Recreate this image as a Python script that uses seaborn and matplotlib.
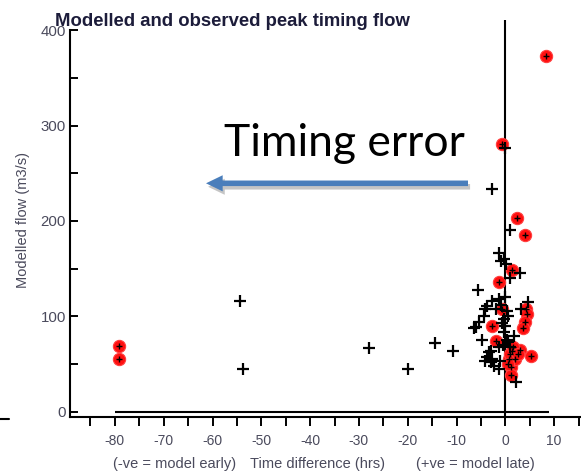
import matplotlib
matplotlib.use("Agg")
import matplotlib.pyplot as plt
import seaborn as sns
import pandas as pd
from matplotlib import patheffects as pe
from matplotlib.lines import Line2D

# ---------------- data ----------------
black_x = [-54.3, -53.8, -27.9, -19.9, -14.4, -10.7,
           -0.1, -2.8, 0.9, -1.4, -0.8, 0.2, -0.3, 3.1, 0.9, -5.6,
           -2.7, -1.3, 0.0, 4.7, -3.7, -2.0, 0.4, 3.3, -4.4, -0.3,
           -6.1, -0.6, 0.0, -4.7, 0.6, 1.7, -3.0, -1.3, -3.7, -3.0,
           -4.1, -2.4, -1.3, -1.0, 2.1, 0.3, -0.5, 1.0, -4.1, -5.4,
           -6.5, -3.4, -2.7, -0.2, 0.5, -0.8]
black_y = [116.5, 44.8, 66.4, 44.8, 71.7, 64.0,
           276, 233, 190, 166.5, 158, 155, 160, 145, 140, 128,
           115.5, 118, 120, 115, 111, 108, 106, 107.7, 100.7, 97.3,
           89.2, 93, 90, 75.5, 72.7, 79.7, 64, 67.5, 57, 51.7,
           53.5, 48.3, 44.8, 53.5, 30.5, 75, 70, 68, 107.7, 93.7,
           87.8, 62.2, 55.3, 83, 100, 112]

red_x = [-79.2, -79.2, 8.4, -0.6, 2.4, 4.1, 1.4, -1.2, -0.6, 4.3,
         4.5, 4.1, -2.8, 3.6, -2.0, 1.4, 3.1, 5.2, 0.7, 1.1,
         1.1, 1.0, 2.0, 1.5, 0.5, 2.5]
red_y = [68.5, 54.9, 373.5, 281, 203, 185.7, 148.7, 135.5, 108, 107.8,
         102.5, 94, 90, 88, 74.5, 64, 65, 58.5, 55.3, 46.5,
         38, 60, 55, 68, 50, 60]

x_major = [-80, -70, -60, -50, -40, -30, -20, -10, 0, 10]
x_minor = [-85, -75, -65, -55, -45, -35, -25, -15, -5, 5, 15]
y_major = [0, 100, 200, 300, 400]
y_minor = [50, 150, 250, 350]

title = "Modelled and observed peak timing flow"
ylabel = "Modelled flow (m3/s)"
xlabel_left = "(-ve = model early)"
xlabel_mid = "Time difference (hrs)"
xlabel_right = "(+ve = model late)"
note = "Timing error"

black_df = pd.DataFrame({"dt": black_x, "flow": black_y})
red_df = pd.DataFrame({"dt": red_x, "flow": red_y})

# ---------------- figure ----------------
sns.set_theme(style="white")
plt.rcParams["font.family"] = ["Liberation Sans", "DejaVu Sans"]

W, H = 581, 471
fig = plt.figure(figsize=(W / 100, H / 100), dpi=100)
ax = fig.add_axes([70 / W, 1 - 416.5 / H, 1 - 70 / W, (416.5 - 20) / H])
ax.set_xlim(-89.2, 15.5)
ax.set_ylim(-5.2, 410.8)

tick_col = "#4a4a5c"

# reference lines
ax.axvline(0, color="black", lw=1.5, zorder=1)
ax.hlines(0, -80, 9, color="black", lw=1.5, zorder=1)

sns.scatterplot(data=red_df, x="dt", y="flow", ax=ax, marker="o", s=78,
                color="#ff1010", edgecolor="#ff4040", linewidth=0.8, zorder=3,
                legend=False)
sns.scatterplot(data=red_df, x="dt", y="flow", ax=ax, marker="+", s=20,
                color="black", linewidth=1.0, zorder=4, legend=False)
sns.scatterplot(data=black_df, x="dt", y="flow", ax=ax, marker="+", s=70,
                color="black", linewidth=1.6, zorder=5, legend=False)

# spines
for s in ["top", "right"]:
    ax.spines[s].set_visible(False)
for s in ["left", "bottom"]:
    ax.spines[s].set_color("black")
    ax.spines[s].set_linewidth(1.5)
ax.spines["left"].set_bounds(-5.2, 400)

ax.set_xticks(x_major)
ax.set_xticklabels([str(v) for v in x_major])
ax.set_xticks(x_minor, minor=True)
ax.set_yticks(y_major)
ax.set_yticklabels([str(v) for v in y_major])
ax.set_yticks(y_minor, minor=True)

ax.tick_params(axis="x", which="both", direction="out", length=6.5, width=1.4,
               color="black", bottom=True, labelsize=10, labelcolor=tick_col, pad=6)
ax.tick_params(axis="y", which="both", direction="in", length=5.5, width=1.4,
               color="black", left=True, labelsize=10.8, labelcolor=tick_col, pad=3)
ax.set_xlabel("")
ax.set_ylabel("")
ax.grid(False)

# texts
fig.text(55 / W, 1 - 26 / H, title, fontsize=13.3, fontweight="bold",
         color="#1c1c3a", ha="left", va="baseline")
fig.text(23 / W, 1 - 220 / H, ylabel, rotation=90, fontsize=10.5, color=tick_col,
         ha="center", va="center")
fig.text(175 / W, 1 - 464 / H, xlabel_left, fontsize=10.5, color=tick_col,
         ha="center", va="center")
fig.text(317 / W, 1 - 464 / H, xlabel_mid, fontsize=10.5, color=tick_col,
         ha="center", va="center")
fig.text(475 / W, 1 - 464 / H, xlabel_right, fontsize=10.5, color=tick_col,
         ha="center", va="center")
fig.text(344 / W, 1 - 156 / H, note, fontsize=32, color="black",
         family=["Lato", "DejaVu Sans"], ha="center", va="baseline")

# arrow with shadow
ann = ax.annotate("", xy=(206 / W, 1 - 183.3 / H), xytext=(468 / W, 1 - 183.3 / H),
                  xycoords="figure fraction", textcoords="figure fraction",
                  arrowprops=dict(arrowstyle="simple,head_length=0.6,head_width=0.58,tail_width=0.2",
                                  mutation_scale=20, color="#4a7ebb", lw=0,
                                  shrinkA=0, shrinkB=0))
ann.arrow_patch.set_path_effects([
    pe.SimplePatchShadow(offset=(1.5, -2.5), shadow_rgbFace="#808080", alpha=0.45),
    pe.Normal()])

# fragment of neighbouring panel at the left edge
fig.add_artist(Line2D([0, 9 / W], [1 - 419 / H, 1 - 419 / H], color="black", lw=1.5))

fig.savefig("out.png", dpi=100)
